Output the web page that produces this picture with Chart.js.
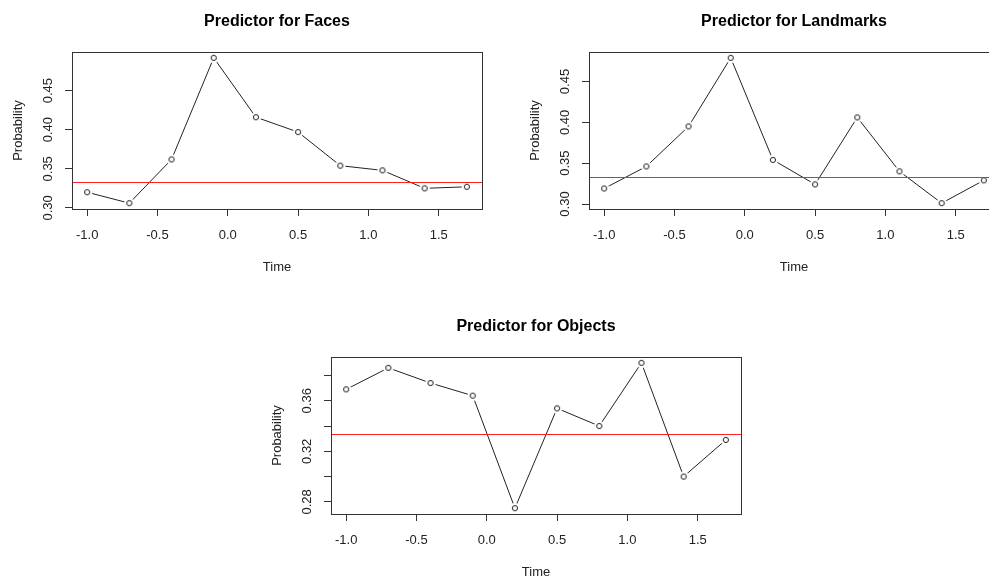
<!DOCTYPE html>
<html>
<head>
<meta charset="utf-8">
<script src="https://cdn.jsdelivr.net/npm/chart.js@4/dist/chart.umd.min.js"></script>
<style>
  html, body { margin: 0; padding: 0; background: #fff; overflow: hidden; }
  body { width: 989px; height: 577px; position: relative; }
  .panel { position: absolute; }
</style>
</head>
<body>
<canvas id="faces" class="panel" width="484" height="285" style="left:0px;top:0px"></canvas>
<canvas id="landmarks" class="panel" width="484" height="285" style="left:517px;top:0px"></canvas>
<canvas id="objects" class="panel" width="484" height="285" style="left:259px;top:305px"></canvas>
<script>
// time points (s) shared by the three predictors
const time = [-1.0, -0.7, -0.4, -0.1, 0.2, 0.5, 0.8, 1.1, 1.4, 1.7];

// predicted probability per category
const faces = [0.320, 0.306, 0.362, 0.492, 0.416, 0.397, 0.354, 0.348, 0.325, 0.327];
const landmarks = [0.319, 0.346, 0.395, 0.479, 0.354, 0.324, 0.406, 0.340, 0.301, 0.329];
const objects = [0.369, 0.386, 0.374, 0.364, 0.275, 0.354, 0.340, 0.390, 0.300, 0.329];

// chance level (3 classes)
const chance = 1 / 3;

// tick labels
const xTickLabels = ["-1.0", "-0.5", "0.0", "0.5", "1.0", "1.5"];
const facesTicks = ["0.30", "0.35", "0.40", "0.45"];
const landmarksTicks = ["0.30", "0.35", "0.40", "0.45"];
const objectsTicks = ["0.28", "0.32", "0.36"];

Chart.defaults.font.family = "'Liberation Sans', Arial, sans-serif";
Chart.defaults.color = "#222";

// R-like axis range: data range plus 4% on each side
function padRange(arr) {
  const lo = Math.min(...arr), hi = Math.max(...arr);
  const d = (hi - lo) * 0.04;
  return [lo - d, hi + d];
}

// open circle with a white halo, so the line stops short of the point (type = "b")
function makeMarker() {
  const c = document.createElement("canvas");
  c.width = 14;
  c.height = 14;
  const g = c.getContext("2d");
  g.fillStyle = "#fff";
  g.beginPath();
  g.arc(7, 7, 5.2, 0, Math.PI * 2);
  g.fill();
  g.strokeStyle = "#222";
  g.lineWidth = 1;
  g.beginPath();
  g.arc(7, 7, 2.6, 0, Math.PI * 2);
  g.stroke();
  return c;
}
const marker = makeMarker();

// box round the plot and the chance line
const framePlugin = {
  id: "frame",
  afterDatasetsDraw(chart, args, opts) {
    const { ctx, chartArea: a, scales } = chart;
    ctx.save();
    ctx.lineWidth = 1;
    const py = Math.round(scales.y.getPixelForValue(opts.level)) + 0.5;
    ctx.strokeStyle = "#ff2020";
    ctx.beginPath();
    ctx.moveTo(a.left, py);
    ctx.lineTo(a.right, py);
    ctx.stroke();
    ctx.strokeStyle = "#333";
    ctx.strokeRect(
      Math.round(a.left) + 0.5,
      Math.round(a.top) + 0.5,
      Math.round(a.right - a.left),
      Math.round(a.bottom - a.top)
    );
    ctx.restore();
  },
};

function noPadding(s) {
  s.paddingLeft = 0;
  s.paddingRight = 0;
  s.paddingTop = 0;
  s.paddingBottom = 0;
}

function makeChart(id, title, values, yStep, yLabels) {
  const [xMin, xMax] = padRange(time);
  const [yMin, yMax] = padRange(values);
  const ctx = document.getElementById(id).getContext("2d");
  return new Chart(ctx, {
    type: "line",
    data: {
      datasets: [
        {
          data: time.map((t, i) => ({ x: t, y: values[i] })),
          borderColor: "#222",
          borderWidth: 1,
          tension: 0,
          pointStyle: marker,
          pointRadius: 3,
          pointHoverRadius: 3,
        },
      ],
    },
    options: {
      responsive: false,
      animation: false,
      events: [],
      layout: { padding: { left: 0, top: 0, bottom: 0, right: 2 }, autoPadding: false },
      plugins: {
        legend: { display: false },
        tooltip: { enabled: false },
        title: {
          display: true,
          text: title,
          fullSize: false,
          color: "#000",
          font: { size: 16, weight: "bold" },
          padding: { top: 12.4, bottom: 20.4 },
        },
        frame: { level: chance },
      },
      scales: {
        x: {
          type: "linear",
          min: xMin,
          max: xMax,
          afterFit: (s) => {
            s.height = 76;
            noPadding(s);
          },
          grid: { drawOnChartArea: false, drawTicks: true, tickLength: 7, color: "#333" },
          border: { display: false },
          ticks: {
            stepSize: 0.5,
            includeBounds: false,
            autoSkip: false,
            maxRotation: 0,
            padding: 12,
            font: { size: 13 },
            callback: (v) => {
              const s = v.toFixed(1);
              return xTickLabels.includes(s) ? s : "";
            },
          },
          title: {
            display: true,
            text: "Time",
            font: { size: 13 },
            padding: { top: 0, bottom: 10.2 },
          },
        },
        y: {
          type: "linear",
          min: yMin,
          max: yMax,
          afterFit: (s) => {
            s.width = 72;
            noPadding(s);
          },
          grid: { drawOnChartArea: false, drawTicks: true, tickLength: 7, color: "#333" },
          border: { display: false },
          ticks: {
            stepSize: yStep,
            includeBounds: false,
            autoSkip: false,
            minRotation: 90,
            maxRotation: 90,
            crossAlign: "center",
            padding: 4,
            font: { size: 13 },
            callback: (v) => {
              const s = v.toFixed(2);
              return yLabels.includes(s) ? s : "";
            },
          },
          title: {
            display: true,
            text: "Probability",
            font: { size: 13 },
            padding: { top: 11, bottom: 0 },
          },
        },
      },
    },
    plugins: [framePlugin],
  });
}

makeChart("faces", "Predictor for Faces", faces, 0.05, facesTicks);
makeChart("landmarks", "Predictor for Landmarks", landmarks, 0.05, landmarksTicks);
makeChart("objects", "Predictor for Objects", objects, 0.02, objectsTicks);
</script>
</body>
</html>
